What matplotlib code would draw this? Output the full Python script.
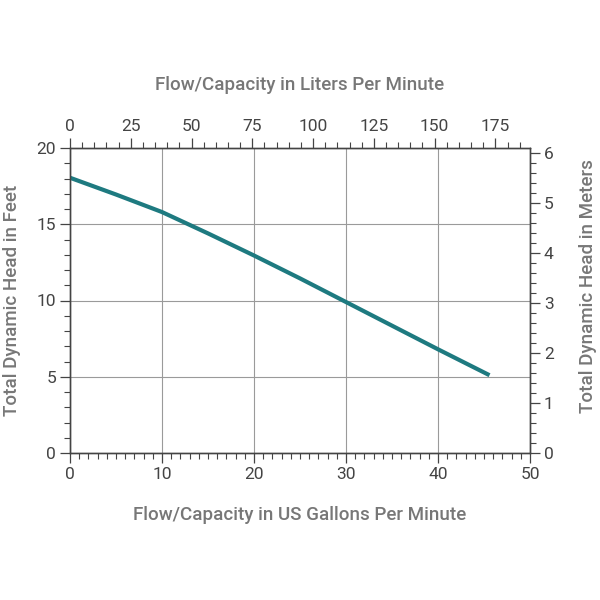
import matplotlib.pyplot as plt
from matplotlib.ticker import MultipleLocator

plt.rcParams['font.family'] = ['Roboto', 'DejaVu Sans']

# pump curve
gpm = [0, 5, 10, 15, 20, 25, 30, 35, 40, 45.6]
head_ft = [18.05, 16.95, 15.8, 14.4, 12.95, 11.45, 9.9, 8.35, 6.8, 5.1]

L_PER_GAL = 3.785
M_PER_FT = 0.3048

text_col = '#777777'
tick_col = '#444444'
spine_col = '#444444'
line_col = '#1e7a80'

fig = plt.figure(figsize=(6, 6), dpi=100)
ax = fig.add_axes([70 / 600, 1 - 453 / 600, 460 / 600, 305 / 600])

ax.plot(gpm, head_ft, color=line_col, linewidth=3, solid_capstyle='butt', zorder=3)

ax.set_xlim(0, 50)
ax.set_ylim(0, 20)
ax.xaxis.set_major_locator(MultipleLocator(10))
ax.xaxis.set_minor_locator(MultipleLocator(1))
ax.yaxis.set_major_locator(MultipleLocator(5))
ax.yaxis.set_minor_locator(MultipleLocator(1))
ax.grid(True, which='major', color='#9a9a9a', linewidth=0.8)

# liters per minute on top
top = ax.twiny()
top.set_xlim(0, 50 * L_PER_GAL)
top.xaxis.set_major_locator(MultipleLocator(25))
top.xaxis.set_minor_locator(MultipleLocator(5))

# meters on the right
right = ax.twinx()
right.set_ylim(0, 20 * M_PER_FT)
right.yaxis.set_major_locator(MultipleLocator(1))
right.yaxis.set_minor_locator(MultipleLocator(0.2))

for a in (ax, top, right):
    for s in a.spines.values():
        s.set_color(spine_col)
        s.set_linewidth(0.9)
    a.tick_params(which='major', length=7, width=0.9, color=spine_col,
                  labelsize=12.5, labelcolor=tick_col, pad=3)
    a.tick_params(which='minor', length=4, width=0.8, color=spine_col)

fig.text(0.5, 1 - 85 / 600, 'Flow/Capacity in Liters Per Minute',
         ha='center', va='center', fontsize=13.5, color=text_col, fontweight='medium')
fig.text(0.5, 1 - 515 / 600, 'Flow/Capacity in US Gallons Per Minute',
         ha='center', va='center', fontsize=13.5, color=text_col, fontweight='medium')
fig.text(12 / 600, 1 - 300 / 600, 'Total Dynamic Head in Feet',
         ha='center', va='center', rotation=90, fontsize=13.5, color=text_col,
         fontweight='medium')
fig.text(588 / 600, 1 - 286 / 600, 'Total Dynamic Head in Meters',
         ha='center', va='center', rotation=90, fontsize=13.5, color=text_col,
         fontweight='medium')

fig.savefig('out.png', dpi=100, facecolor='white')
